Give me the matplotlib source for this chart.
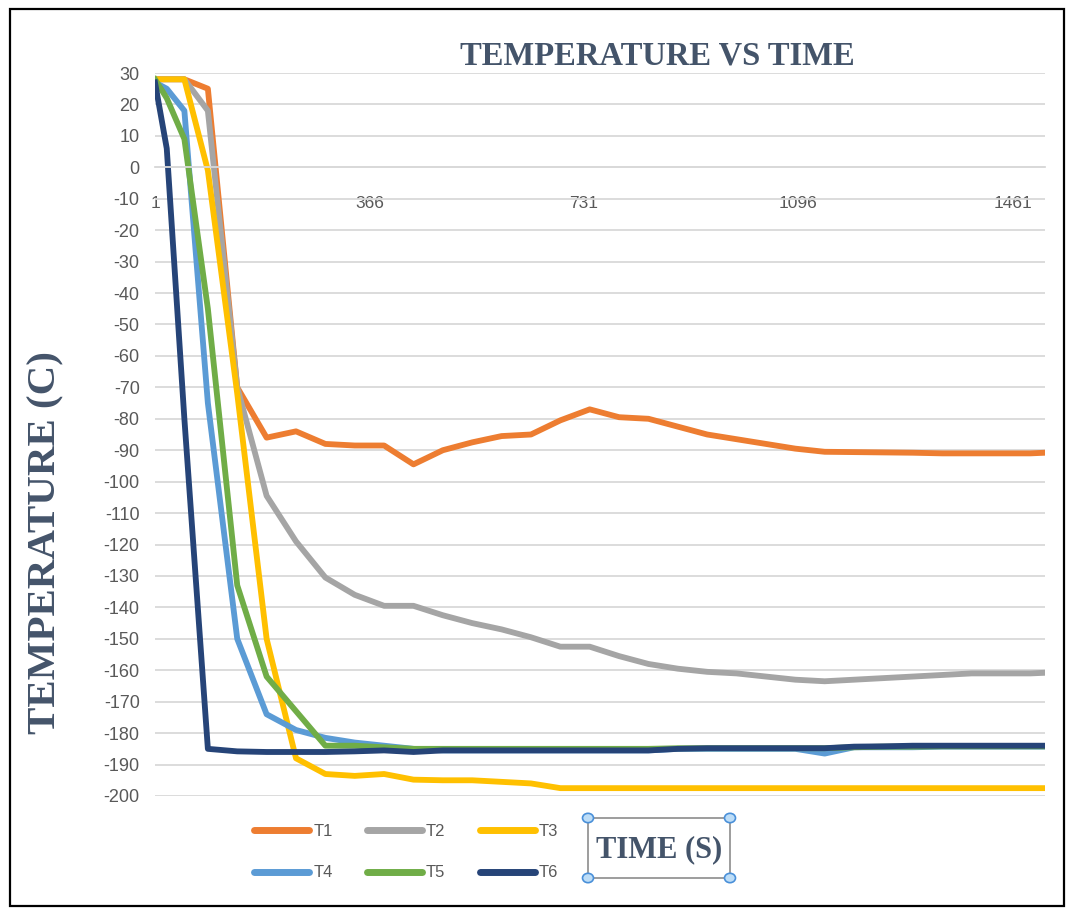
import numpy as np
import matplotlib
matplotlib.use("Agg")
import matplotlib.pyplot as plt
from matplotlib.lines import Line2D
from matplotlib.patches import Rectangle, Circle

# time stamps (s) and sensor readings (C)
time_s = [1, 21, 51, 91, 141, 191, 241, 291, 341, 391, 441, 491, 541, 591, 641,
          691, 741, 791, 841, 891, 941, 991, 1041, 1091, 1141, 1191, 1241, 1291,
          1341, 1391, 1441, 1491, 1516]

t1 = [28, 28, 28, 25, -70, -86, -84, -88, -88.5, -88.5, -94.5, -90, -87.5, -85.5, -85,
      -80.5, -77, -79.5, -80, -82.5, -85, -86.5, -88, -89.5, -90.5, -90.6, -90.7, -90.8,
      -91, -91, -91, -91, -90.8]
t2 = [28, 28, 28, 18, -70, -104.5, -119, -130.5, -136, -139.5, -139.5, -142.5, -145, -147,
      -149.5, -152.5, -152.5, -155.5, -158, -159.5, -160.5, -161, -162, -163, -163.5, -163,
      -162.5, -162, -161.5, -161, -161, -161, -160.8]
t3 = [28, 28, 28, -1, -72, -150, -188, -193, -193.6, -193, -194.8, -195, -195, -195.5,
      -196, -197.5, -197.5, -197.5, -197.5, -197.5, -197.5, -197.5, -197.5, -197.5, -197.5,
      -197.5, -197.5, -197.5, -197.5, -197.5, -197.5, -197.5, -197.5]
t4 = [27, 25, 18, -75, -150, -174, -179, -181.5, -183, -184, -185, -185.5, -185.5, -185.5,
      -185.5, -185.5, -185.5, -185.5, -185.5, -185, -185, -185, -185, -185, -186.5, -184.5,
      -184.5, -184.5, -184.3, -184.3, -184.3, -184.3, -184.3]
t5 = [28, 22, 9, -45, -133, -162, -173, -184, -184, -184.5, -185, -185, -185, -185, -185,
      -185, -185, -185, -185, -184.8, -184.8, -184.8, -184.8, -184.8, -184.8, -184.5, -184.3,
      -184.3, -184.2, -184.2, -184.2, -184.2, -184.2]
t6 = [27, 6, -80, -185, -185.8, -186, -186, -186, -185.8, -185.5, -186, -185.5, -185.5,
      -185.5, -185.5, -185.5, -185.5, -185.5, -185.5, -185, -184.8, -184.8, -184.8, -184.8,
      -184.8, -184.3, -184.2, -184, -184, -184, -184, -184, -184]

series = [t1, t2, t3, t4, t5, t6]
names = ["T1", "T2", "T3", "T4", "T5", "T6"]
colors = ["#ED7D31", "#A5A5A5", "#FFC000", "#5B9BD5", "#70AD47", "#264478"]

x_ticks = [1, 366, 731, 1096, 1461]
y_ticks = list(range(30, -201, -10))

W, H = 1070, 911
fig = plt.figure(figsize=(W / 100, H / 100), dpi=100)
ax = fig.add_axes([155 / W, 1 - 796 / H, (1045 - 155) / W, (796 - 73) / H])

for vals, name, c in zip(series, names, colors):
    ax.plot(time_s, vals, color=c, lw=4.2, label=name, solid_joinstyle="round")

ax.set_xlim(1, 1516)
ax.set_ylim(-200, 30)
ax.set_yticks(y_ticks)
ax.set_yticklabels([str(v) for v in y_ticks])
ax.yaxis.grid(True, color="#D9D9D9", lw=1.3)
ax.set_axisbelow(True)

for s in ["top", "right", "left"]:
    ax.spines[s].set_visible(False)
ax.spines["bottom"].set_position(("data", 0))
ax.spines["bottom"].set_color("#D9D9D9")
ax.spines["bottom"].set_linewidth(1.3)

ax.set_xticks(x_ticks)
ax.set_xticklabels([str(v) for v in x_ticks])
ax.tick_params(axis="x", length=0, pad=21, labelsize=12.5, labelcolor="#595959")
ax.tick_params(axis="y", length=0, pad=11, labelsize=13, labelcolor="#595959")
for lab in ax.get_xticklabels() + ax.get_yticklabels():
    lab.set_family("Liberation Sans")

title_col = "#44546A"
fig.text(657 / W, 1 - 56 / H, "TEMPERATURE VS TIME", ha="center", va="center",
         family="Liberation Serif", weight="bold", fontsize=23.5, color=title_col)
fig.text(46 / W, 1 - 543 / H, "TEMPERATURE (C)", ha="center", va="center", rotation=90,
         family="Liberation Serif", weight="bold", fontsize=29.5, color=title_col)

# legend, row-major order T1 T2 T3 / T4 T5 T6
order = [0, 3, 1, 4, 2, 5]
handles = [Line2D([], [], color=colors[i], lw=5, solid_capstyle="round") for i in order]
leg = fig.legend(handles, [names[i] for i in order], ncol=3, loc="center",
                 bbox_to_anchor=(406 / W, 1 - 852 / H), frameon=False,
                 handlelength=3.3, handletextpad=0.25, columnspacing=2.05,
                 labelspacing=1.6, prop={"family": "Liberation Sans", "size": 12})
for txt in leg.get_texts():
    txt.set_color("#595959")

# axis title box for time with its corner handles
bx0, by0, bx1, by1 = 588, 818, 730, 878
fig.patches.append(Rectangle((bx0 / W, 1 - by1 / H), (bx1 - bx0) / W, (by1 - by0) / H,
                             transform=fig.transFigure, fill=False, ec="#8C8C8C", lw=1.2))
fig.text((bx0 + bx1) / 2 / W, 1 - 850 / H, "TIME (S)", ha="center", va="center",
         family="Liberation Serif", weight="bold", fontsize=22, color=title_col)
for cx, cy in [(bx0, by0), (bx1, by0), (bx0, by1), (bx1, by1)]:
    fig.patches.append(Circle((cx / W, 1 - cy / H), 5.5 / W, transform=fig.transFigure,
                              fc="#BDDDF7", ec="#4A90D9", lw=1.2))

# outer frame
fig.patches.append(Rectangle((10 / W, 1 - 906 / H), (1064 - 10) / W, (906 - 9) / H,
                             transform=fig.transFigure, fill=False, ec="black", lw=1.6))

fig.savefig("out.png", dpi=100)
